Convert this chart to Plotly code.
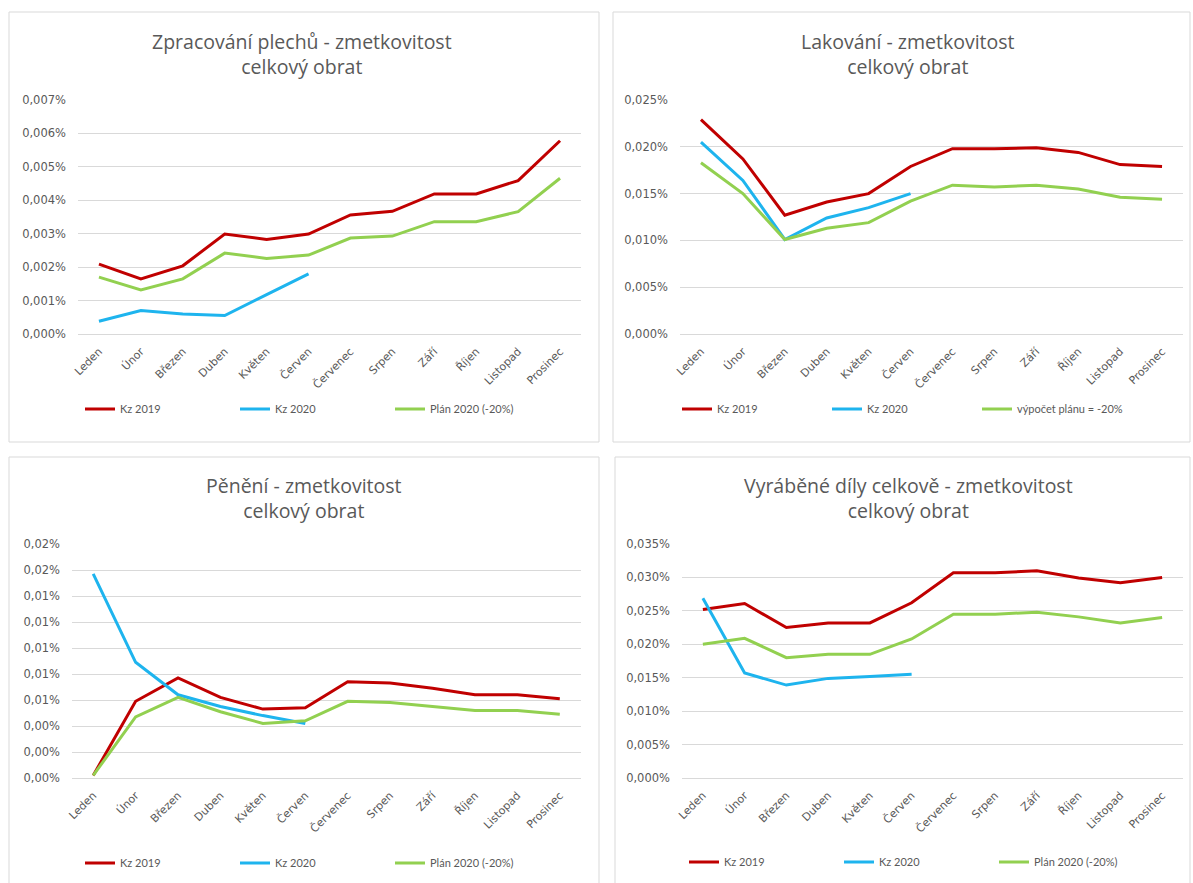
import plotly.graph_objects as go

# Months (Czech)
mesice = ["Leden", "Únor", "Březen", "Duben", "Květen", "Červen",
          "Červenec", "Srpen", "Září", "Říjen", "Listopad", "Prosinec"]

# Zpracování plechů (values in %)
plechy_kz2019 = [0.00209, 0.00165, 0.00204, 0.00299, 0.00283, 0.00299,
                 0.00356, 0.00367, 0.00419, 0.00419, 0.00459, 0.00578]
plechy_kz2020 = [0.00038, 0.00070, 0.00060, 0.00055, 0.00118, 0.00180]
plechy_plan = [0.00170, 0.00132, 0.00165, 0.00242, 0.00226, 0.00236,
               0.00287, 0.00293, 0.00336, 0.00336, 0.00366, 0.00466]

# Lakování
lak_kz2019 = [0.0229, 0.0187, 0.0127, 0.0141, 0.0150, 0.0179,
              0.0198, 0.0198, 0.0199, 0.0194, 0.0181, 0.0179]
lak_kz2020 = [0.0205, 0.0164, 0.0101, 0.0124, 0.0135, 0.0150]
lak_plan = [0.0183, 0.0150, 0.0101, 0.0113, 0.0119, 0.0142,
            0.0159, 0.0157, 0.0159, 0.0155, 0.0146, 0.0144]

# Pěnění
pen_kz2019 = [0.0002, 0.0059, 0.0077, 0.0062, 0.0053, 0.0054,
              0.0074, 0.0073, 0.0069, 0.0064, 0.0064, 0.0061]
pen_kz2020 = [0.0157, 0.0089, 0.0064, 0.0055, 0.0048, 0.0042]
pen_plan = [0.0002, 0.0047, 0.0062, 0.0051, 0.0042, 0.0044,
            0.0059, 0.0058, 0.0055, 0.0052, 0.0052, 0.0049]

# Vyráběné díly celkově
dily_kz2019 = [0.0252, 0.0261, 0.0225, 0.0232, 0.0232, 0.0262,
               0.0307, 0.0307, 0.0310, 0.0299, 0.0292, 0.0300]
dily_kz2020 = [0.0269, 0.0157, 0.0139, 0.0149, 0.0152, 0.0155]
dily_plan = [0.0200, 0.0209, 0.0180, 0.0185, 0.0185, 0.0208,
             0.0245, 0.0245, 0.0248, 0.0241, 0.0232, 0.0240]

RED = "#C00000"
BLUE = "#1EB4EE"
GREEN = "#92D050"
GRAY_TXT = "#595959"
GRID = "#D9D9D9"
TITLE_FONT = "Open Sans"
TICK_FONT = "DejaVu Sans"
LEGEND_FONT = "Lato"

W, H = 1193, 883

panels = [
    dict(title="Zpracování plechů - zmetkovitost<br>celkový obrat",
         series=(plechy_kz2019, plechy_kz2020, plechy_plan),
         plan_name="Plán 2020 (-20%)", ymax=0.007, dtick=0.001, fmt=".3f",
         plot=(78, 581, 100, 334), frame=(9, 599, 12, 442),
         title_xy=(302, 54), legend_xy=(80, 409), entry=110),
    dict(title="Lakování - zmetkovitost<br>celkový obrat",
         series=(lak_kz2019, lak_kz2020, lak_plan),
         plan_name="výpočet plánu = -20%", ymax=0.025, dtick=0.005, fmt=".3f",
         plot=(680, 1183, 100, 334), frame=(613, 1190, 12, 442),
         title_xy=(908, 54), legend_xy=(677, 409), entry=105),
    dict(title="Pěnění - zmetkovitost<br>celkový obrat",
         series=(pen_kz2019, pen_kz2020, pen_plan),
         plan_name="Plán 2020 (-20%)", ymax=0.018, dtick=0.002, fmt=".2f",
         plot=(72, 581, 544, 778), frame=(9, 599, 457, 890),
         title_xy=(304, 498), legend_xy=(80, 863), entry=110),
    dict(title="Vyráběné díly celkově - zmetkovitost<br>celkový obrat",
         series=(dily_kz2019, dily_kz2020, dily_plan),
         plan_name="Plán 2020 (-20%)", ymax=0.035, dtick=0.005, fmt=".3f",
         plot=(682, 1183, 544, 778), frame=(615, 1190, 457, 890),
         title_xy=(908, 498), legend_xy=(684, 862), entry=110),
]

fig = go.Figure()
shapes = []
annotations = []
layout_axes = {}

for i, p in enumerate(panels, start=1):
    sfx = "" if i == 1 else str(i)
    xa, ya = "x" + sfx, "y" + sfx
    leg = "legend" + sfx
    kz19, kz20, plan = p["series"]
    names = ["Kz 2019", "Kz 2020", p["plan_name"]]
    colors = [RED, BLUE, GREEN]
    for vals, name, col in zip((kz19, kz20, plan), names, colors):
        fig.add_trace(go.Scatter(
            x=mesice[:len(vals)], y=vals, name=name, mode="lines",
            line=dict(color=col, width=3),
            xaxis=xa, yaxis=ya, legend=leg, hoverinfo="skip"))

    x0, x1, y0, y1 = p["plot"]
    layout_axes["xaxis" + sfx] = dict(
        domain=[x0 / W, x1 / W], anchor=ya, type="category",
        categoryorder="array", categoryarray=mesice,
        range=[-0.5, 11.5], showgrid=False, zeroline=False,
        showline=False, ticks="", tickangle=-45,
        tickfont=dict(family=TICK_FONT, size=11, color=GRAY_TXT),
        ticklabelstandoff=8, fixedrange=True)
    layout_axes["yaxis" + sfx] = dict(
        domain=[1 - y1 / H, 1 - y0 / H], anchor=xa,
        range=[0, p["ymax"]], dtick=p["dtick"], tick0=0,
        tickformat=p["fmt"], ticksuffix="%",
        showgrid=True, gridcolor=GRID, gridwidth=1,
        zeroline=True, zerolinecolor=GRID, zerolinewidth=1,
        showline=False, ticks="",
        tickfont=dict(family=TICK_FONT, size=11.5, color=GRAY_TXT),
        ticklabelstandoff=11, fixedrange=True)

    lx, ly = p["legend_xy"]
    layout_axes[leg] = dict(
        x=lx / W, y=1 - ly / H, xanchor="left", yanchor="middle",
        orientation="h", entrywidth=p["entry"], entrywidthmode="pixels",
        font=dict(family=LEGEND_FONT, size=11, color=GRAY_TXT),
        bgcolor="rgba(0,0,0,0)", borderwidth=0, tracegroupgap=0,
        itemclick=False, itemdoubleclick=False)

    fx0, fx1, fy0, fy1 = p["frame"]
    shapes.append(dict(
        type="rect", xref="paper", yref="paper",
        x0=fx0 / W, x1=fx1 / W, y0=1 - fy1 / H, y1=1 - fy0 / H,
        line=dict(color=GRID, width=1), fillcolor="white", layer="below"))

    tx, ty = p["title_xy"]
    annotations.append(dict(
        text=p["title"], x=tx / W, y=1 - ty / H, xref="paper", yref="paper",
        xanchor="center", yanchor="middle", showarrow=False,
        font=dict(family=TITLE_FONT, size=19.5, color=GRAY_TXT)))

fig.update_layout(
    width=W, height=H,
    margin=dict(l=0, r=0, t=0, b=0, autoexpand=False),
    paper_bgcolor="white", plot_bgcolor="rgba(0,0,0,0)",
    separators=", ", showlegend=True,
    shapes=shapes, annotations=annotations,
    **layout_axes)

fig.write_html("out.html", config={"displayModeBar": False})
